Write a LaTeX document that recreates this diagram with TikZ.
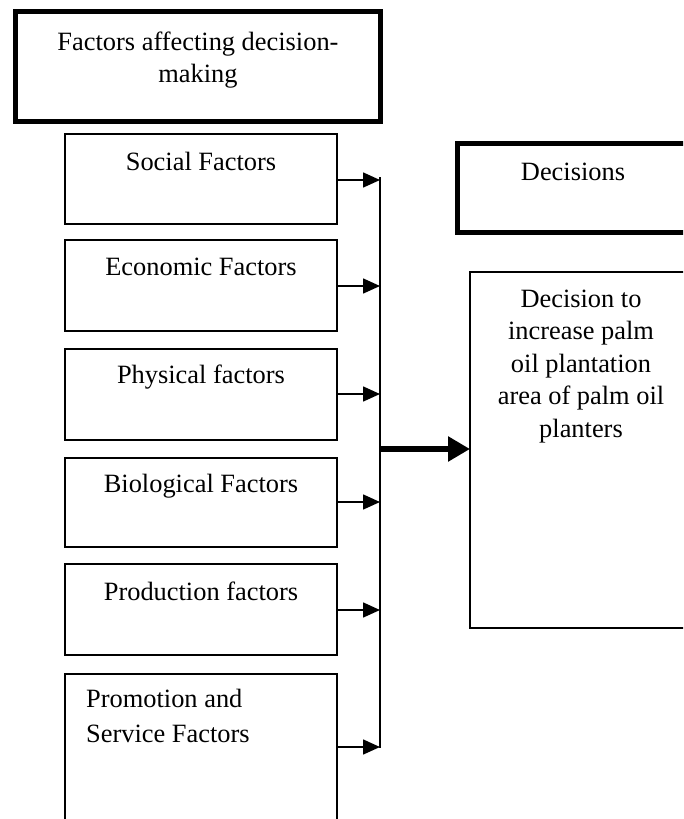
\documentclass[tikz,border=0pt]{standalone}
\usepackage{fontspec}
\setmainfont{Liberation Serif}
\usetikzlibrary{arrows.meta,calc}
\begin{document}
\begin{tikzpicture}[x=1pt,y=-1pt,
  box/.style={draw,line width=1.7pt,rectangle,anchor=north west,inner sep=0pt,outer sep=0pt},
  thickbox/.style={draw,line width=5pt,rectangle,anchor=north west,inner sep=0pt,outer sep=0pt},
  thinbox/.style={draw,line width=1.5pt,rectangle,anchor=north west,inner sep=0pt,outer sep=0pt},
  lbl/.style={font=\fontsize{26.4}{32}\selectfont,anchor=base,inner sep=0pt,align=center},
  arr/.style={line width=1.6pt,-{Triangle[length=17pt,width=15pt]}},
  bigarr/.style={line width=6pt,-{Triangle[length=22pt,width=24pt]}},
  bus/.style={line width=1.8pt}
]
\useasboundingbox (0,0) rectangle (683,819);
\clip (0,0) rectangle (683,819);
% title box
\node[thickbox,minimum width=365pt,minimum height=110pt] (title) at (15.5,11.5) {};
\node[lbl] (titlet) at (198,82) {Factors affecting decision-\\making};
% factor boxes
\node[box,minimum width=272pt,minimum height=90pt] (social) at (65,134) {};
\node[box,minimum width=272pt,minimum height=91pt] (economic) at (65,240) {};
\node[box,minimum width=272pt,minimum height=91pt] (physical) at (65,349) {};
\node[box,minimum width=272pt,minimum height=89pt] (biological) at (65,458) {};
\node[box,minimum width=272pt,minimum height=91pt] (production) at (65,564) {};
\node[box,minimum width=272pt,minimum height=170pt] (promotion) at (65,674) {};
\node[lbl] (socialt) at (201,170) {Social Factors};
\node[lbl] (economict) at (201,275) {Economic Factors};
\node[lbl] (physicalt) at (201,383) {Physical factors};
\node[lbl] (biologicalt) at (201,492) {Biological Factors};
\node[lbl] (productiont) at (201,600) {Production factors};
\node[lbl,font=\fontsize{26.4}{35}\selectfont,align=left,anchor=base west] (promotiont) at (86,742) {Promotion and\\Service Factors};
% decisions
\node[thickbox,minimum width=250pt,minimum height=89pt] (decisions) at (457.5,143.5) {};
\node[lbl] (decisionst) at (573,180) {Decisions};
\node[thinbox,minimum width=240pt,minimum height=356pt] (decision) at (470,272) {};
\node[lbl,font=\fontsize{26.4}{32.5}\selectfont] (decisiont) at (581,437) {Decision to\\increase palm\\oil plantation\\area of palm oil\\planters};
% bus and arrows
\coordinate (bustop) at (380,177);
\coordinate (busbot) at (380,748);
\draw[bus] (bustop) -- (busbot);
\foreach \n/\y in {social/180,economic/286,physical/394,biological/502,production/610,promotion/747}{
  \coordinate (j\n) at (380,\y);
  \draw[arr] (\n.east |- j\n) -- (j\n);
}
\coordinate (jbig) at (380,449);
\draw[bigarr] (jbig) -- (decision.west |- jbig);
\end{tikzpicture}
\end{document}
